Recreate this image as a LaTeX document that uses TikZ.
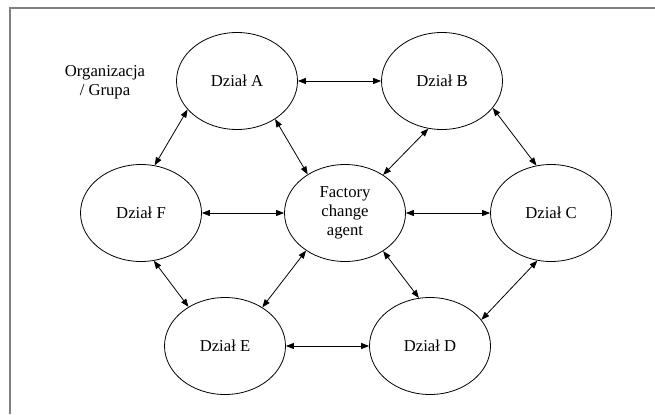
\documentclass[tikz,border=0pt]{standalone}
\usepackage{fontspec}
\setmainfont{Liberation Serif}
\usetikzlibrary{arrows.meta,shapes.geometric}

\begin{document}
\begin{tikzpicture}[x=0.75pt,y=0.75pt,yscale=-1,xscale=1,
  dzial/.style={draw,ellipse,line width=0.6pt,minimum width=90.75pt,minimum height=72.75pt,inner sep=0pt,align=center,font=\fontsize{12.5}{14}\selectfont},
  link/.style={{Triangle[length=6pt,width=4.5pt]}-{Triangle[length=6pt,width=4.5pt]},line width=0.6pt}]
%set diagram size
\useasboundingbox (0,0) rectangle (655,414);
%Frame
\draw [color={rgb, 255:red, 128; green, 128; blue, 128 }][line width=1.2pt] (10,414) -- (10,8) -- (655,8) ;
% Text Node
\node (org) at (105,82) [inner sep=0.75pt,align=center,font=\fontsize{12.5}{14}\selectfont] {Organizacja\\/ Grupa};
%Ellipses
\node [dzial] (a) at (237,81) {Dział A};
\node [dzial] (b) at (442,81) {Dział B};
\node [dzial] (f) at (141,213) {Dział F};
\node [dzial] (agent) at (345,213) {Factory\\change\\agent};
\node [dzial] (c) at (551,213) {Dział C};
\node [dzial] (e) at (225,346) {Dział E};
\node [dzial] (d) at (430,346) {Dział D};
%Arrows
\draw [link] (a.east) -- (b.west) ;
\draw [link] (a.210) -- (f.74) ;
\draw [link] (a.315) -- (agent.134) ;
\draw [link] (b.254) -- (agent.45) ;
\draw [link] (b.332) -- (c.107) ;
\draw [link] (f.east) -- (agent.west) ;
\draw [link] (agent.east) -- (c.west) ;
\draw [link] (f.285) -- (e.133) ;
\draw [link] (agent.224) -- (e.46) ;
\draw [link] (agent.315) -- (d.103) ;
\draw [link] (c.254) -- (d.27) ;
\draw [link] (e.east) -- (d.west) ;
\end{tikzpicture}
\end{document}
